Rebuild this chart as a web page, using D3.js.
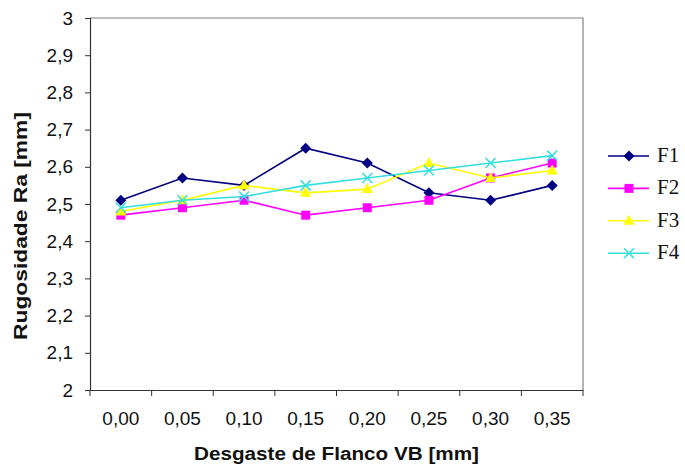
<!DOCTYPE html>
<html>
<head>
<meta charset="utf-8">
<script src="https://cdn.jsdelivr.net/npm/d3@7"></script>
<style>
  body { margin: 0; background: #fff; }
  svg { display: block; }
</style>
</head>
<body>
<script>
// chart data
const categories = ["0,00", "0,05", "0,10", "0,15", "0,20", "0,25", "0,30", "0,35"];
const seriesNames = ["F1", "F2", "F3", "F4"];
const f1 = [2.51, 2.57, 2.55, 2.65, 2.61, 2.53, 2.51, 2.55];
const f2 = [2.47, 2.49, 2.51, 2.47, 2.49, 2.51, 2.57, 2.61];
const f3 = [2.48, 2.51, 2.55, 2.53, 2.54, 2.61, 2.57, 2.59];
const f4 = [2.49, 2.51, 2.52, 2.55, 2.57, 2.59, 2.61, 2.63];
const yTickValues = [2, 2.1, 2.2, 2.3, 2.4, 2.5, 2.6, 2.7, 2.8, 2.9, 3];
const yTickLabels = ["2", "2,1", "2,2", "2,3", "2,4", "2,5", "2,6", "2,7", "2,8", "2,9", "3"];

const colors = ["#000080", "#ff00ff", "#ffff00", "#33dede"];
const markers = ["diamond", "square", "triangle", "cross"];

const width = 685, height = 467;
const plot = { left: 90, top: 18, right: 583, bottom: 390 };

const svg = d3.select('body')
    .append('svg')
    .attr('width', width)
    .attr('height', height);

const x = d3.scaleBand()
    .domain(categories)
    .range([plot.left, plot.right])
    .padding(0);

const y = d3.scaleLinear()
    .domain([2, 3])
    .range([plot.bottom, plot.top]);

// plot frame (top and right edges)
svg.append('path')
    .attr('d', `M${plot.left},${plot.top}H${plot.right}V${plot.bottom}`)
    .attr('fill', 'none')
    .attr('stroke', '#808080')
    .attr('stroke-width', 1.2);

// y axis
const yAxis = svg.append('g')
    .attr('transform', `translate(${plot.left},0)`)
    .call(d3.axisLeft(y)
        .tickValues(yTickValues)
        .tickFormat((d, i) => yTickLabels[i])
        .tickSize(5)
        .tickPadding(12));
yAxis.select('.domain').attr('stroke', '#333').attr('stroke-width', 1.2);
yAxis.selectAll('.tick line').attr('stroke', '#333');
yAxis.selectAll('text')
    .attr('font-family', 'Liberation Sans, Arial, sans-serif')
    .attr('font-size', 19)
    .attr('fill', '#111');

// x axis (labels centred in each band, ticks on band edges)
const xAxis = svg.append('g')
    .attr('transform', `translate(0,${plot.bottom})`)
    .call(d3.axisBottom(x).tickSize(0).tickPadding(22).tickSizeOuter(0));
xAxis.select('.domain').attr('stroke', '#333').attr('stroke-width', 1.2);
xAxis.selectAll('text')
    .attr('font-family', 'Liberation Sans, Arial, sans-serif')
    .attr('font-size', 19)
    .attr('fill', '#111');

const edges = categories.map(c => x(c)).concat([x.range()[1]]);
xAxis.selectAll('.edge')
    .data(edges)
    .enter()
    .append('line')
    .classed('edge', true)
    .attr('x1', d => d).attr('x2', d => d)
    .attr('y1', 0).attr('y2', 6)
    .attr('stroke', '#333');

// axis titles
svg.append('text')
    .attr('x', (plot.left + plot.right) / 2)
    .attr('y', 460)
    .attr('text-anchor', 'middle')
    .attr('font-family', 'Liberation Sans, Arial, sans-serif')
    .attr('font-weight', 'bold')
    .attr('font-size', 18)
    .attr('textLength', 285)
    .attr('lengthAdjust', 'spacingAndGlyphs')
    .attr('fill', '#111')
    .text('Desgaste de Flanco VB [mm]');

svg.append('text')
    .attr('transform', `translate(27,${(plot.top + plot.bottom) / 2 + 22}) rotate(-90)`)
    .attr('text-anchor', 'middle')
    .attr('font-family', 'Liberation Sans, Arial, sans-serif')
    .attr('font-weight', 'bold')
    .attr('font-size', 18)
    .attr('textLength', 228)
    .attr('lengthAdjust', 'spacingAndGlyphs')
    .attr('fill', '#111')
    .text('Rugosidade Ra [mm]');

// marker drawing
function drawMarker(g, type, color) {
    if (type === 'diamond') {
        g.append('path').attr('d', 'M0,-5.5L5.5,0L0,5.5L-5.5,0Z').attr('fill', color);
    } else if (type === 'square') {
        g.append('rect').attr('x', -4.5).attr('y', -4.5).attr('width', 9).attr('height', 9).attr('fill', color);
    } else if (type === 'triangle') {
        g.append('path').attr('d', 'M0,-6L5.5,4L-5.5,4Z').attr('fill', color);
    } else {
        g.append('path').attr('d', 'M-5,-5L5,5M-5,5L5,-5')
            .attr('stroke', color).attr('stroke-width', 1.5).attr('fill', 'none');
    }
}

const allSeries = [f1, f2, f3, f4];
const line = d3.line()
    .x((d, i) => x(categories[i]) + x.bandwidth() / 2)
    .y(d => y(d));

allSeries.forEach((values, s) => {
    svg.append('path')
        .datum(values)
        .attr('d', line)
        .attr('fill', 'none')
        .attr('stroke', colors[s])
        .attr('stroke-width', 1.6);

    svg.selectAll(`.m${s}`)
        .data(values)
        .enter()
        .append('g')
        .classed(`m${s}`, true)
        .attr('transform', (d, i) => `translate(${x(categories[i]) + x.bandwidth() / 2},${y(d)})`)
        .each(function () {
            drawMarker(d3.select(this), markers[s], colors[s]);
        });
});

// legend
const legend = svg.selectAll('.legend')
    .data(seriesNames)
    .enter()
    .append('g')
    .classed('legend', true)
    .attr('transform', (d, i) => `translate(608,${156 + i * 32.4})`);

legend.append('line')
    .attr('x1', 0).attr('x2', 41)
    .attr('stroke', (d, i) => colors[i])
    .attr('stroke-width', 1.6);

legend.each(function (d, i) {
    const g = d3.select(this).append('g').attr('transform', 'translate(21,0)');
    drawMarker(g, markers[i], colors[i]);
});

legend.append('text')
    .attr('x', 49)
    .attr('y', 6)
    .attr('font-family', 'Liberation Serif, Times New Roman, serif')
    .attr('font-size', 21)
    .attr('fill', '#111')
    .text(d => d);
</script>
</body>
</html>
